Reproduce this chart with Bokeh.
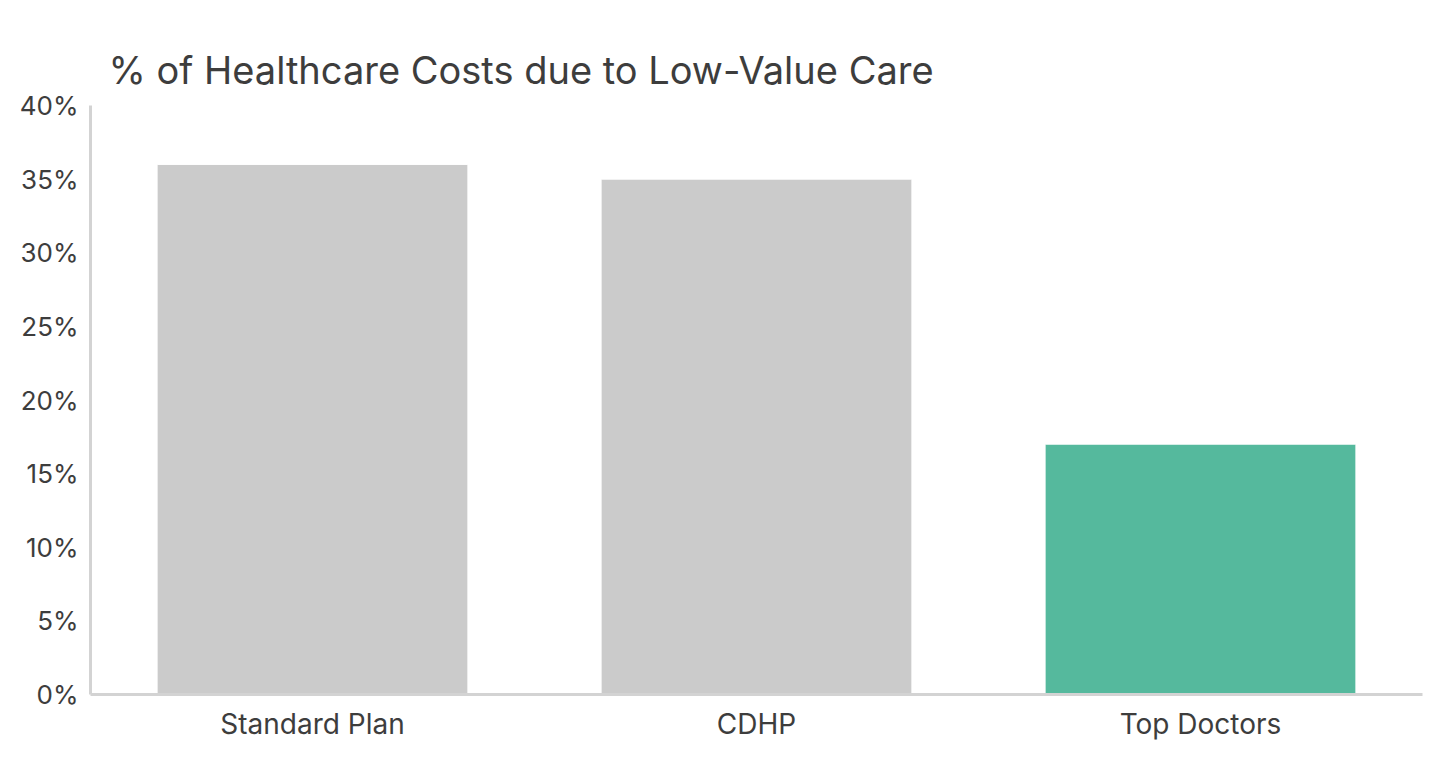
from bokeh.plotting import figure
from bokeh.models import FactorRange, Range1d, FixedTicker, ColumnDataSource
from bokeh.embed import file_html
from bokeh.resources import INLINE

categories = ["Standard Plan", "CDHP", "Top Doctors"]
values = [36, 35, 17]
colors = ["#cbcbcb", "#cbcbcb", "#55b99d"]
y_ticks = [0, 5, 10, 15, 20, 25, 30, 35, 40]
title_text = "% of Healthcare Costs due to Low-Value Care"

FONT = "Inter"
TXT = "#3d3d3d"

src = ColumnDataSource(dict(cat=categories, val=values, col=colors))

p = figure(
    width=1434, height=766,
    x_range=FactorRange(*categories, range_padding=0),
    y_range=Range1d(0, 40),
    output_backend="svg", toolbar_location=None,
    min_border_left=90, min_border_right=12, min_border_top=105, min_border_bottom=72,
)
p.title.text = title_text
p.title.text_font = FONT
p.title.text_font_size = "38px"
p.title.text_font_style = "normal"
p.title.text_color = TXT
p.title.offset = 18
p.title.standoff = 26

p.vbar(x="cat", top="val", width=0.7, fill_color="col", line_color="white", line_width=1, source=src)

p.xgrid.visible = False
p.ygrid.visible = False
p.outline_line_color = None

for ax in (p.xaxis, p.yaxis):
    ax.axis_line_color = "#d3d3d3"
    ax.axis_line_width = 3
    ax.major_tick_line_color = None
    ax.minor_tick_line_color = None
    ax.major_label_text_font = FONT
    ax.major_label_text_color = TXT

p.yaxis.major_label_text_font_size = "26px"
p.xaxis.major_label_text_font_size = "28px"
p.yaxis.ticker = FixedTicker(ticks=y_ticks)
p.yaxis.major_label_overrides = {t: f"{t}%" for t in y_ticks}
p.yaxis.major_label_standoff = 6
p.xaxis.major_label_standoff = 6

open("out.html", "w").write(file_html(p, INLINE))
